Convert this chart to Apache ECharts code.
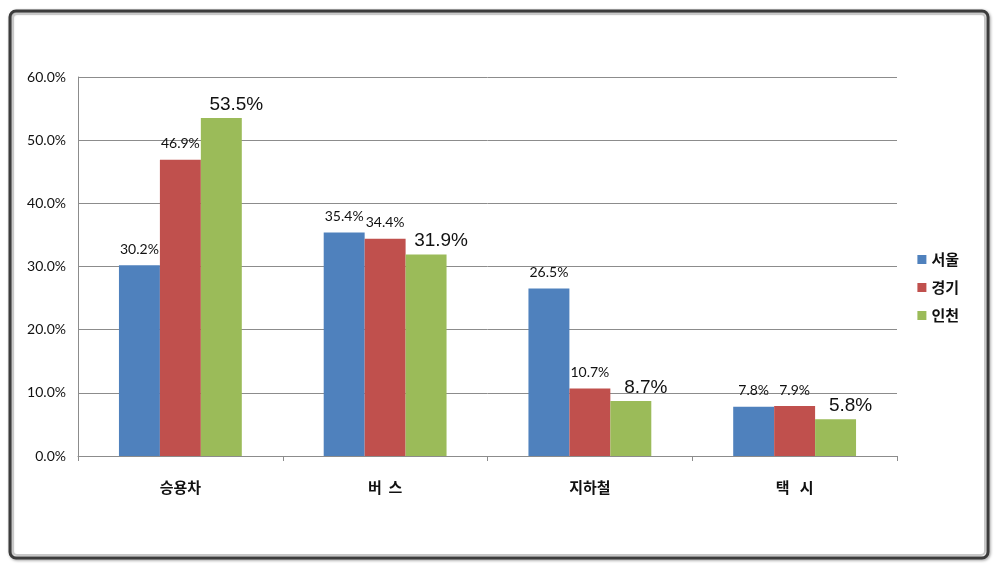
<!DOCTYPE html>
<html><head><meta charset="utf-8">
<script src="https://cdn.jsdelivr.net/npm/echarts@6/dist/echarts.min.js"></script>
<style>html,body{margin:0;padding:0;background:#fff}#c{width:997px;height:569px}</style>
</head><body><div id="c"></div>
<script>
var categories = ['승용차', '버  스', '지하철', '택   시'];
var seriesNames = ['서울', '경기', '인천'];
var seoul = [30.2, 35.4, 26.5, 7.8];
var gyeonggi = [46.9, 34.4, 10.7, 7.9];
var incheon = [53.5, 31.9, 8.7, 5.8];
var colors = ['#4F81BD', '#C0504D', '#9BBB59'];

var chart = echarts.init(document.getElementById('c'));
var smallLabel = {show: true, position: 'top', distance: 9, fontFamily: 'Lato, "DejaVu Sans"', fontSize: 14, color: '#111', formatter: function(p){return p.value.toFixed(1)+'%';}};
var bigLabel = {show: true, position: 'top', distance: 4, offset: [15, 0], fontFamily: '"Liberation Sans", Arial', fontSize: 19, color: '#111', formatter: function(p){return p.value.toFixed(1)+'%';}};
chart.setOption({
  animation: false,
  color: colors,
  graphic: [
    {type: 'rect', shape: {x: 10, y: 11, width: 978, height: 547, r: 6}, style: {fill: 'none', stroke: '#3c3c3c', lineWidth: 3, shadowBlur: 3, shadowColor: 'rgba(0,0,0,0.4)', shadowOffsetX: 1, shadowOffsetY: 1}, z: 100},
    {type: 'rect', shape: {x: 13, y: 14, width: 972, height: 541, r: 4}, style: {fill: 'none', stroke: '#c8c8c8', lineWidth: 2}, z: 100}
  ],
  grid: {left: 78, right: 100, top: 77, bottom: 113},
  legend: {
    orient: 'vertical', right: 33, top: 247, itemGap: 13, itemWidth: 9, itemHeight: 9, icon: 'rect',
    textStyle: {fontFamily: '"Noto Sans CJK KR"', fontWeight: 'bold', fontSize: 15, color: '#111'},
    data: seriesNames
  },
  xAxis: {
    type: 'category', data: categories,
    axisLine: {lineStyle: {color: '#8c8c8c', width: 1}},
    axisTick: {show: true, length: 5, lineStyle: {color: '#8c8c8c'}},
    axisLabel: {margin: 24, fontFamily: '"Noto Sans CJK KR"', fontWeight: 'bold', fontSize: 15, color: '#111'}
  },
  yAxis: {
    type: 'value', min: 0, max: 60, interval: 10,
    axisLine: {show: true, lineStyle: {color: '#8c8c8c'}},
    axisTick: {show: false},
    splitLine: {lineStyle: {color: '#8c8c8c', width: 1}},
    axisLabel: {margin: 12, fontFamily: 'Lato, "DejaVu Sans"', fontSize: 14, color: '#111', formatter: function(v){return v.toFixed(1)+'%';}}
  },
  series: [
    {name: seriesNames[0], type: 'bar', data: seoul, barGap: '0%', barCategoryGap: '40%', label: smallLabel},
    {name: seriesNames[1], type: 'bar', data: gyeonggi, label: smallLabel},
    {name: seriesNames[2], type: 'bar', data: incheon, label: bigLabel}
  ]
});
</script></body></html>
